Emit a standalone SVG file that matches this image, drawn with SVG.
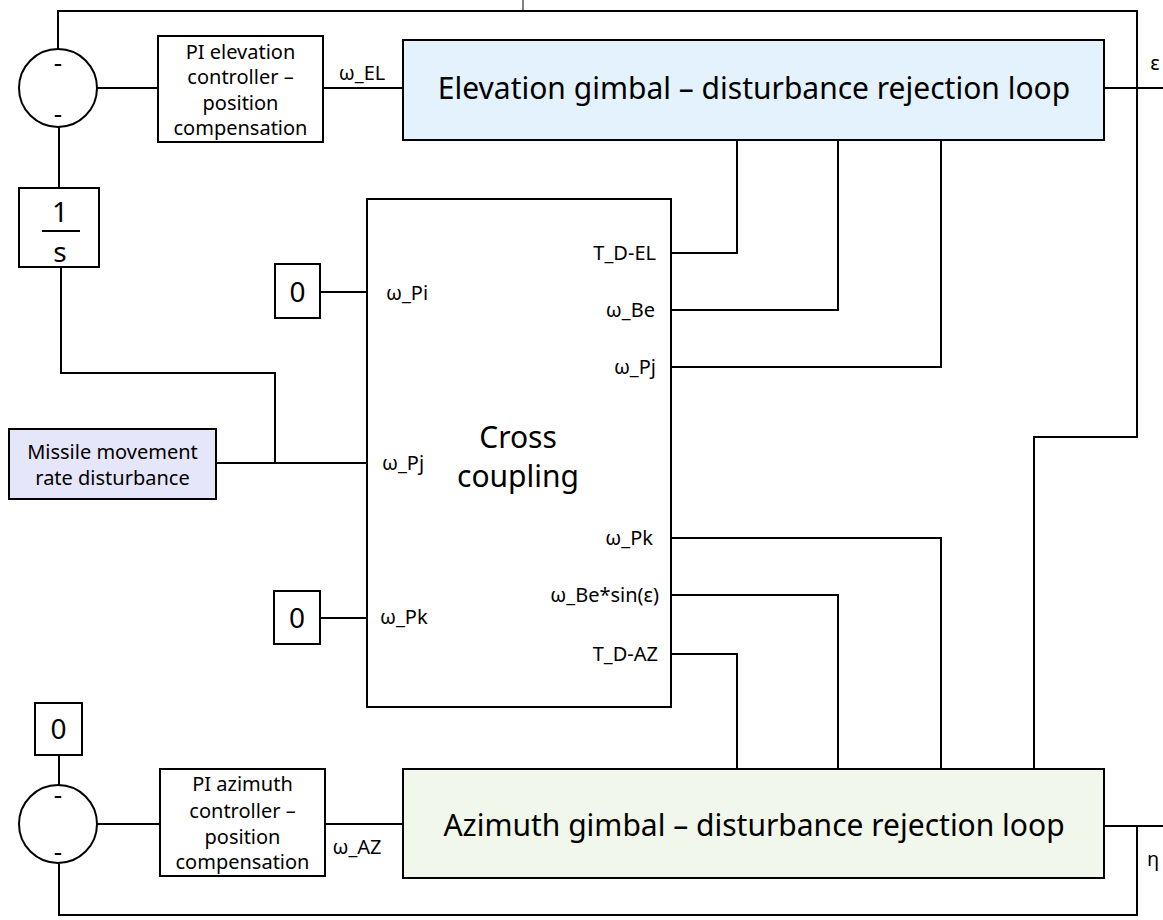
<svg xmlns="http://www.w3.org/2000/svg" width="1163" height="920" viewBox="0 0 1163 920">
<style>
.ln{fill:none;stroke:#000;stroke-width:2}
.bx{fill:#fff;stroke:#000;stroke-width:2}
.t{font-family:"Noto Sans","Open Sans",sans-serif;fill:#000}
.s{font-size:20px}
.m{font-size:20px}
.b{font-size:30px}
.d{font-size:26px}
</style>
<rect width="1163" height="920" fill="#fff"/>
<g id="connectors">
<line x1="523" y1="0" x2="523" y2="11" stroke="#000" stroke-width="1"/>
<polyline class="ln" points="58,49 58,11 1137,11 1137,437 1034,437 1034,769"/>
<line class="ln" x1="97" y1="88" x2="158" y2="88"/>
<line class="ln" x1="323" y1="88" x2="403" y2="88"/>
<line class="ln" x1="1104" y1="88" x2="1163" y2="88"/>
<line class="ln" x1="59" y1="127" x2="59" y2="188"/>
<polyline class="ln" points="61,267 61,373 275,373 275,463"/>
<line class="ln" x1="216" y1="463" x2="367" y2="463"/>
<line class="ln" x1="320" y1="292" x2="367" y2="292"/>
<line class="ln" x1="320" y1="618" x2="367" y2="618"/>
<polyline class="ln" points="671,253 737,253 737,140"/>
<polyline class="ln" points="671,310 838,310 838,140"/>
<polyline class="ln" points="671,367 941,367 941,140"/>
<polyline class="ln" points="671,538 941,538 941,769"/>
<polyline class="ln" points="671,595 838,595 838,769"/>
<polyline class="ln" points="671,654 737,654 737,769"/>
<line class="ln" x1="59" y1="755" x2="59" y2="786"/>
<line class="ln" x1="98" y1="824" x2="160" y2="824"/>
<line class="ln" x1="325" y1="824" x2="403" y2="824"/>
<line class="ln" x1="1104" y1="826" x2="1163" y2="826"/>
<polyline class="ln" points="1137,826 1137,915 59,915 59,864"/>
</g>
<g id="sum-el">
<circle class="bx" cx="58" cy="88" r="39"/>
<text class="t d" x="58" y="72" text-anchor="middle">-</text>
<text class="t d" x="58" y="123" text-anchor="middle">-</text>
</g>
<g id="pi-el">
<rect class="bx" x="158" y="36" width="165" height="106"/>
<text class="t m" text-anchor="middle"><tspan x="240.5" y="59">PI elevation</tspan><tspan x="240.5" y="84">controller –</tspan><tspan x="240.5" y="110">position</tspan><tspan x="240.5" y="135">compensation</tspan></text>
</g>
<text class="t s" x="362" y="80" text-anchor="middle">ω_EL</text>
<g id="el-gimbal">
<rect x="403" y="40" width="701" height="100" fill="#E3F2FD" stroke="#000" stroke-width="2"/>
<text class="t b" x="754" y="99" text-anchor="middle">Elevation gimbal – disturbance rejection loop</text>
</g>
<text class="t m" x="1155" y="70" text-anchor="middle">ε</text>
<g id="integrator">
<rect class="bx" x="19" y="188" width="80" height="79"/>
<text class="t" font-size="28" x="60" y="222" text-anchor="middle">1</text>
<line class="ln" x1="42" y1="231" x2="80" y2="231"/>
<text class="t" font-size="28" x="60" y="262" text-anchor="middle">s</text>
</g>
<g id="zero-pi">
<rect class="bx" x="275" y="264" width="45" height="54"/>
<text class="t" font-size="28" x="297.5" y="302" text-anchor="middle">0</text>
</g>
<g id="missile">
<rect x="9" y="429" width="207" height="70" fill="#E6E6FA" stroke="#000" stroke-width="2"/>
<text class="t m" text-anchor="middle"><tspan x="112.5" y="459">Missile movement</tspan><tspan x="112.5" y="485">rate disturbance</tspan></text>
</g>
<g id="zero-pk">
<rect class="bx" x="274" y="591" width="46" height="53"/>
<text class="t" font-size="28" x="297" y="628" text-anchor="middle">0</text>
</g>
<g id="cross-coupling">
<rect class="bx" x="367" y="199" width="304" height="508"/>
<text class="t b" text-anchor="middle"><tspan x="518" y="448">Cross</tspan><tspan x="518" y="487">coupling</tspan></text>
<text class="t s" x="386" y="300">ω_Pi</text>
<text class="t s" x="382" y="470">ω_Pj</text>
<text class="t s" x="380" y="624">ω_Pk</text>
<text class="t s" x="656" y="260" text-anchor="end">T_D-EL</text>
<text class="t s" x="655" y="317" text-anchor="end">ω_Be</text>
<text class="t s" x="656" y="374" text-anchor="end">ω_Pj</text>
<text class="t s" x="653" y="545" text-anchor="end">ω_Pk</text>
<text class="t s" x="659" y="602" text-anchor="end">ω_Be*sin(ε)</text>
<text class="t s" x="658" y="661" text-anchor="end">T_D-AZ</text>
</g>
<g id="zero-az">
<rect class="bx" x="35" y="703" width="47" height="52"/>
<text class="t" font-size="28" x="58.5" y="739" text-anchor="middle">0</text>
</g>
<g id="sum-az">
<circle class="bx" cx="58" cy="824" r="39"/>
<text class="t d" x="58" y="804" text-anchor="middle">-</text>
<text class="t d" x="58" y="861" text-anchor="middle">-</text>
</g>
<g id="pi-az">
<rect class="bx" x="160" y="769" width="165" height="107"/>
<text class="t m" text-anchor="middle"><tspan x="242.5" y="791">PI azimuth</tspan><tspan x="242.5" y="818">controller –</tspan><tspan x="242.5" y="844">position</tspan><tspan x="242.5" y="869">compensation</tspan></text>
</g>
<text class="t s" x="357" y="854" text-anchor="middle">ω_AZ</text>
<g id="az-gimbal">
<rect x="403" y="769" width="701" height="109" fill="#F1F7EA" stroke="#000" stroke-width="2"/>
<text class="t b" x="754" y="836" text-anchor="middle">Azimuth gimbal – disturbance rejection loop</text>
</g>
<text class="t m" x="1153" y="866" text-anchor="middle">η</text>
</svg>
